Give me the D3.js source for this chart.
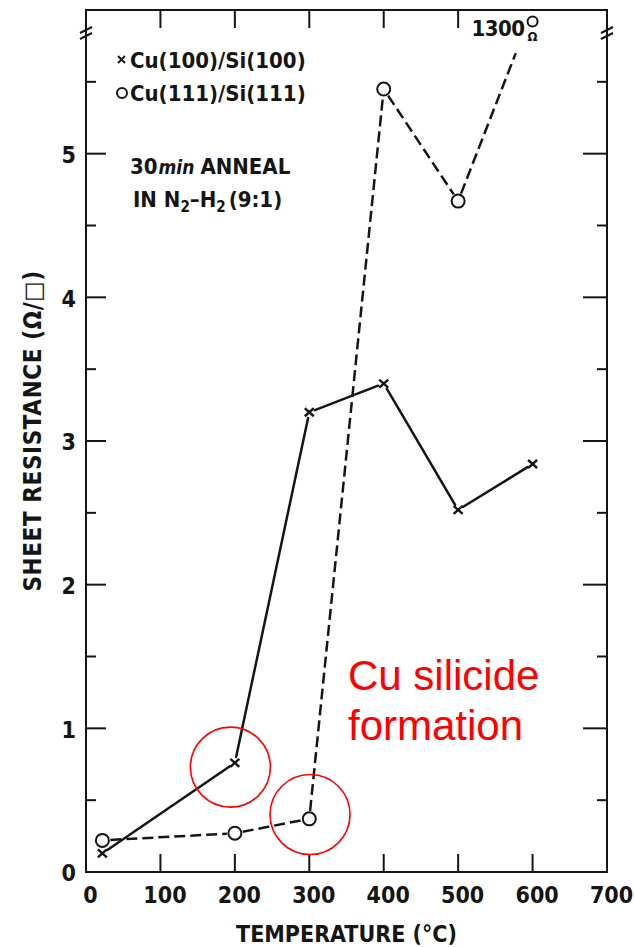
<!DOCTYPE html>
<html>
<head>
<meta charset="utf-8">
<script src="https://cdn.jsdelivr.net/npm/d3@7"></script>
<style>
  html, body { margin: 0; padding: 0; background: #fff; }
  svg { display: block; }
  .ink { font-family: "DejaVu Sans Condensed", "DejaVu Sans", sans-serif; font-weight: bold; fill: #151515; }
</style>
</head>
<body>
<svg id="chart" width="634" height="947"></svg>
<script>
// Sheet resistance vs anneal temperature
const temps100 = [22, 200, 300, 400, 500, 600];
const res100   = [0.13, 0.76, 3.20, 3.40, 2.52, 2.84];
const temps111 = [22, 200, 300, 400, 500, 600];
const res111   = [0.22, 0.27, 0.37, 5.45, 4.67, 1300];   // 600 °C is off scale

const xTickValues = [0, 100, 200, 300, 400, 500, 600, 700];
const yTickValues = [0, 1, 2, 3, 4, 5];
const yMinorValues = [0.5, 1.5, 2.5, 3.5, 4.5, 5.5];

const xDomain = [0, 700];
const yDomain = [0, 6];
const breakLevel = 5.84;     // axis break marks
const lineStopLevel = 5.70;  // off-scale segment stops here
const offScaleLevel = 5.92;  // where the off-scale point is marked

// circled points (temperature, resistance)
const highlightTemps = [194, 301];
const highlightValues = [0.73, 0.40];

const ink = "#151515";
const svg = d3.select("#chart");
const M = { left: 86, right: 607, top: 10, bottom: 872 };

const x = d3.scaleLinear().domain(xDomain).range([M.left, M.right]);
const y = d3.scaleLinear().domain(yDomain).range([M.bottom, M.top]);

const g = svg.append("g");

// frame
g.append("rect")
  .attr("x", M.left).attr("y", M.top)
  .attr("width", M.right - M.left).attr("height", M.bottom - M.top)
  .attr("fill", "none").attr("stroke", ink).attr("stroke-width", 2);

// bottom axis: inward ticks, labels below
const bottomAxis = d3.axisBottom(x).tickValues(xTickValues).tickSize(0).tickPadding(14).tickFormat(d3.format("d"));
const gb = g.append("g").attr("transform", `translate(0,${M.bottom})`).call(bottomAxis);
gb.select(".domain").remove();
gb.selectAll("text").attr("class", "ink").attr("font-size", 23).attr("dx", 4).attr("dy", "0.75em");
g.selectAll(".xtick-b").data(xTickValues.filter(d => d > 0 && d < 700)).join("line")
  .attr("x1", d => x(d)).attr("x2", d => x(d))
  .attr("y1", M.bottom).attr("y2", M.bottom - 18)
  .attr("stroke", ink).attr("stroke-width", 2);
// top ticks (600 is covered by the off-scale note)
g.selectAll(".xtick-t").data(xTickValues.filter(d => d > 0 && d < 600)).join("line")
  .attr("x1", d => x(d)).attr("x2", d => x(d))
  .attr("y1", M.top).attr("y2", M.top + 18)
  .attr("stroke", ink).attr("stroke-width", 2);

// left axis labels
const leftAxis = d3.axisLeft(y).tickValues(yTickValues).tickSize(0).tickPadding(10).tickFormat(d3.format("d"));
const gl = g.append("g").attr("transform", `translate(${M.left},0)`).call(leftAxis);
gl.select(".domain").remove();
gl.selectAll("text").attr("class", "ink").attr("font-size", 23).attr("dy", "0.38em");

// y ticks on both sides, inward
const yMajor = yTickValues.filter(d => d > 0);
[[M.left, 1, 20], [M.right, -1, 24]].forEach(([x0, dir, len]) => {
  g.append("g").selectAll("line").data(yMajor).join("line")
    .attr("x1", x0).attr("x2", x0 + dir * len)
    .attr("y1", d => y(d)).attr("y2", d => y(d))
    .attr("stroke", ink).attr("stroke-width", 2);
  g.append("g").selectAll("line").data(yMinorValues).join("line")
    .attr("x1", x0).attr("x2", x0 + dir * 10)
    .attr("y1", d => y(d)).attr("y2", d => y(d))
    .attr("stroke", ink).attr("stroke-width", 2);
  // axis break marks
  [-3, 3].forEach(off => {
    g.append("line")
      .attr("x1", x0 - 6).attr("x2", x0 + 6)
      .attr("y1", y(breakLevel) + off + 3).attr("y2", y(breakLevel) + off - 3)
      .attr("stroke", ink).attr("stroke-width", 2);
  });
});

// axis titles
g.append("text").attr("class", "ink")
  .attr("x", (M.left + M.right) / 2).attr("y", 942)
  .attr("text-anchor", "middle").attr("font-size", 23)
  .text("TEMPERATURE (°C)");
g.append("text").attr("class", "ink")
  .attr("transform", `translate(41,${431}) rotate(-90)`)
  .attr("text-anchor", "middle").attr("font-size", 24).attr("letter-spacing", 0.6)
  .text("SHEET RESISTANCE (Ω/□)");

// series geometry with small gaps around the markers
function segments(temps, vals, gap) {
  const segs = [];
  for (let i = 0; i < temps.length - 1; i++) {
    let x0 = x(temps[i]), y0 = y(vals[i]);
    let v1 = vals[i + 1], x1 = x(temps[i + 1]), y1;
    let endGap = gap;
    if (v1 > yDomain[1]) {
      // aim at the top of the scale, stop short of the break
      const t = (lineStopLevel - vals[i]) / (yDomain[1] - vals[i]);
      x1 = x0 + (x1 - x0) * t;
      y1 = y0 + (y(yDomain[1]) - y0) * t;
      endGap = 0;
    } else {
      y1 = y(v1);
    }
    const dx = x1 - x0, dy = y1 - y0, L = Math.hypot(dx, dy);
    segs.push([
      [x0 + dx / L * gap, y0 + dy / L * gap],
      [x1 - dx / L * endGap, y1 - dy / L * endGap]
    ]);
  }
  return segs;
}
const line = d3.line();

g.append("g").selectAll("path").data(segments(temps100, res100, 6)).join("path")
  .attr("d", line).attr("fill", "none").attr("stroke", ink)
  .attr("stroke-width", 2.5).attr("stroke-linecap", "round");

g.append("g").selectAll("path").data(segments(temps111, res111, 8)).join("path")
  .attr("d", line).attr("fill", "none").attr("stroke", ink)
  .attr("stroke-width", 2.5).attr("stroke-dasharray", "11,5");

// × markers
const crossPts = temps100.map((t, i) => [x(t), y(res100[i])]);
g.append("g").selectAll("path").data(crossPts).join("path")
  .attr("d", d => `M${d[0]-4.5},${d[1]-4}L${d[0]+4.5},${d[1]+4}M${d[0]-4.5},${d[1]+4}L${d[0]+4.5},${d[1]-4}`)
  .attr("stroke", ink).attr("stroke-width", 2.4);

// ○ markers (off-scale value marked near the top)
const circlePts = temps111.map((t, i) => [x(t), y(Math.min(res111[i], offScaleLevel))]);
g.append("g").selectAll("circle").data(circlePts).join("circle")
  .attr("cx", d => d[0]).attr("cy", d => d[1]).attr("r", d => d[1] < y(yDomain[1] - 0.2) ? 5 : 6.5)
  .attr("fill", "none").attr("stroke", ink).attr("stroke-width", 2);

// off-scale value note
const offT = temps111[res111.length - 1];
g.append("text").attr("class", "ink")
  .attr("x", x(offT) - 8).attr("y", y(offScaleLevel) + 15)
  .attr("text-anchor", "end").attr("font-size", 22).attr("letter-spacing", -0.5)
  .text(d3.format("d")(res111[res111.length - 1]));
g.append("text").attr("class", "ink")
  .attr("x", x(offT)).attr("y", y(offScaleLevel) + 20)
  .attr("text-anchor", "middle").attr("font-size", 13)
  .text("Ω");

// legend and conditions
const legend = g.append("g");
legend.append("path")
  .attr("d", "M118,56L125,63M118,63L125,56")
  .attr("stroke", ink).attr("stroke-width", 2);
legend.append("text").attr("class", "ink").attr("x", 130).attr("y", 68)
  .attr("font-size", 22).text("Cu(100)/Si(100)");
legend.append("circle").attr("cx", 122).attr("cy", 93).attr("r", 5)
  .attr("fill", "none").attr("stroke", ink).attr("stroke-width", 2);
legend.append("text").attr("class", "ink").attr("x", 130).attr("y", 101)
  .attr("font-size", 22).text("Cu(111)/Si(111)");

const cond1 = legend.append("text").attr("class", "ink").attr("x", 130).attr("y", 174).attr("font-size", 22);
cond1.append("tspan").text("30");
cond1.append("tspan").attr("font-style", "italic").attr("font-size", 19).attr("dx", 1).text("min");
cond1.append("tspan").attr("dx", 6).text("ANNEAL");
const cond2 = legend.append("text").attr("class", "ink").attr("x", 133).attr("y", 207).attr("font-size", 22);
cond2.append("tspan").text("IN  N");
cond2.append("tspan").attr("font-size", 15).attr("dy", 5).text("2");
cond2.append("tspan").attr("dy", -5).text("–H");
cond2.append("tspan").attr("font-size", 15).attr("dy", 5).text("2");
cond2.append("tspan").attr("dy", -5).attr("dx", 3).text("(9:1)");

// highlight annotations
const red = "#ff0000";
g.append("g").selectAll("circle").data(highlightTemps.map((t, i) => [x(t), y(highlightValues[i])])).join("circle")
  .attr("cx", d => d[0]).attr("cy", d => d[1]).attr("r", 40)
  .attr("fill", "none").attr("stroke", red).attr("stroke-width", 1.6);
const note = g.append("text").attr("font-family", "Liberation Sans, Arial, sans-serif")
  .attr("font-size", 42).attr("fill", red);
note.append("tspan").attr("x", 348).attr("y", 690).text("Cu silicide");
note.append("tspan").attr("x", 348).attr("y", 740).text("formation");
</script>
</body>
</html>
